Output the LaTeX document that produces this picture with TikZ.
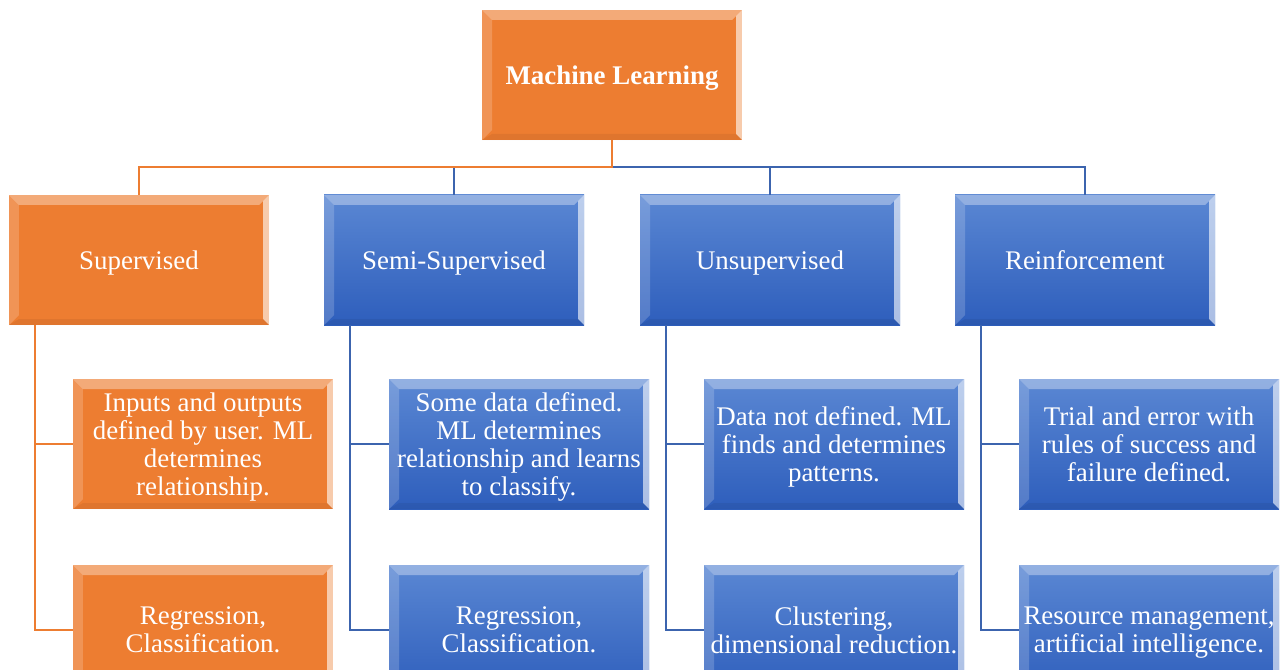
\documentclass[tikz,border=0pt]{standalone}
\usepackage{fontspec}
\setmainfont{Liberation Serif}
\usetikzlibrary{calc}

\definecolor{mlorange}{HTML}{ED7D31}
\definecolor{mlblueT}{HTML}{5A87D3}
\definecolor{mlblueB}{HTML}{2E5EBC}
\definecolor{mlline}{HTML}{3C64AE}

\tikzset{
  bevel/.style={path picture={
    % borde superior (claro)
    \fill[white, opacity=.35] (path picture bounding box.north west)
      -- (path picture bounding box.north east)
      -- ([shift={(-10bp,-10bp)}]path picture bounding box.north east)
      -- ([shift={(10bp,-10bp)}]path picture bounding box.north west) -- cycle;
    % borde izquierdo
    \fill[white, opacity=.18] (path picture bounding box.north west)
      -- ([shift={(10bp,-10bp)}]path picture bounding box.north west)
      -- ([shift={(10bp,10bp)}]path picture bounding box.south west)
      -- (path picture bounding box.south west) -- cycle;
    % borde derecho (muy claro)
    \fill[white, opacity=.6] (path picture bounding box.north east)
      -- ([shift={(-6bp,-6bp)}]path picture bounding box.north east)
      -- ([shift={(-6bp,6bp)}]path picture bounding box.south east)
      -- (path picture bounding box.south east) -- cycle;
    % borde inferior (oscuro)
    \fill[black, opacity=.06] (path picture bounding box.south west)
      -- ([shift={(10bp,6bp)}]path picture bounding box.south west)
      -- ([shift={(-6bp,6bp)}]path picture bounding box.south east)
      -- (path picture bounding box.south east) -- cycle;
  }},
  mlbox/.style={bevel, inner sep=0pt, minimum width=260bp, minimum height=130bp,
    align=center, text=white, font=\fontsize{27}{28}\selectfont,
    text depth=0pt},
  orangebox/.style={mlbox, fill=mlorange},
  bluebox/.style={mlbox, top color=mlblueT, bottom color=mlblueB},
  orangeline/.style={draw=mlorange, line width=2.2bp},
  blueline/.style={draw=mlline, line width=2.2bp},
}

\begin{document}
\begin{tikzpicture}[x=1bp, y=-1bp]

\clip (0,0) rectangle (1280,670);
\fill[white] (0,0) rectangle (1280,670);

% ── Raíz ──────────────────────────────────────────────────────
\node[orangebox, font=\fontsize{27}{28}\selectfont\bfseries] (ml) at (612,75)
    {Machine Learning};

% ── Categorías ────────────────────────────────────────────────
\node[orangebox] (sup)   at (139,260)  {Supervised};
\node[bluebox]   (semi)  at (454,260)  {Semi-Supervised};
\node[bluebox]   (unsup) at (770,260)  {Unsupervised};
\node[bluebox]   (reinf) at (1085,260) {Reinforcement};

% ── Definiciones ──────────────────────────────────────────────
\node[orangebox] (supdef)   at (203,444)
    {Inputs and outputs\\defined by user. ML\\determines\\relationship.};
\node[bluebox]   (semidef)  at (519,444)
    {Some data defined.\\ML determines\\relationship and learns\\to classify.};
\node[bluebox]   (unsupdef) at (834,444)
    {Data not defined. ML\\finds and determines\\patterns.};
\node[bluebox]   (reinfdef) at (1149,444)
    {Trial and error with\\rules of success and\\failure defined.};

% ── Aplicaciones ──────────────────────────────────────────────
\node[orangebox] (supuse)   at (203,630)  {Regression,\\Classification.};
\node[bluebox]   (semiuse)  at (519,630)  {Regression,\\Classification.};
\node[bluebox]   (unsupuse) at (834,630)  {Clustering,\\dimensional reduction.};
\node[bluebox]   (reinfuse) at (1149,630) {Resource management,\\artificial intelligence.};

% ── Conectores raíz → categorías ──────────────────────────────
\draw[blueline] (ml.south) -- ++(0,27) -| (semi.north);
\draw[blueline] (ml.south) -- ++(0,27) -| (unsup.north);
\draw[blueline] (ml.south) -- ++(0,27) -| (reinf.north);
\draw[orangeline] (ml.south) -- ++(0,27) -| (sup.north);

% ── Conectores categoría → hojas ──────────────────────────────
\draw[orangeline] ([xshift=26bp]sup.south west) |- (supdef.west);
\draw[orangeline] ([xshift=26bp]sup.south west) |- (supuse.west);
\draw[blueline] ([xshift=26bp]semi.south west) |- (semidef.west);
\draw[blueline] ([xshift=26bp]semi.south west) |- (semiuse.west);
\draw[blueline] ([xshift=26bp]unsup.south west) |- (unsupdef.west);
\draw[blueline] ([xshift=26bp]unsup.south west) |- (unsupuse.west);
\draw[blueline] ([xshift=26bp]reinf.south west) |- (reinfdef.west);
\draw[blueline] ([xshift=26bp]reinf.south west) |- (reinfuse.west);

\end{tikzpicture}
\end{document}
